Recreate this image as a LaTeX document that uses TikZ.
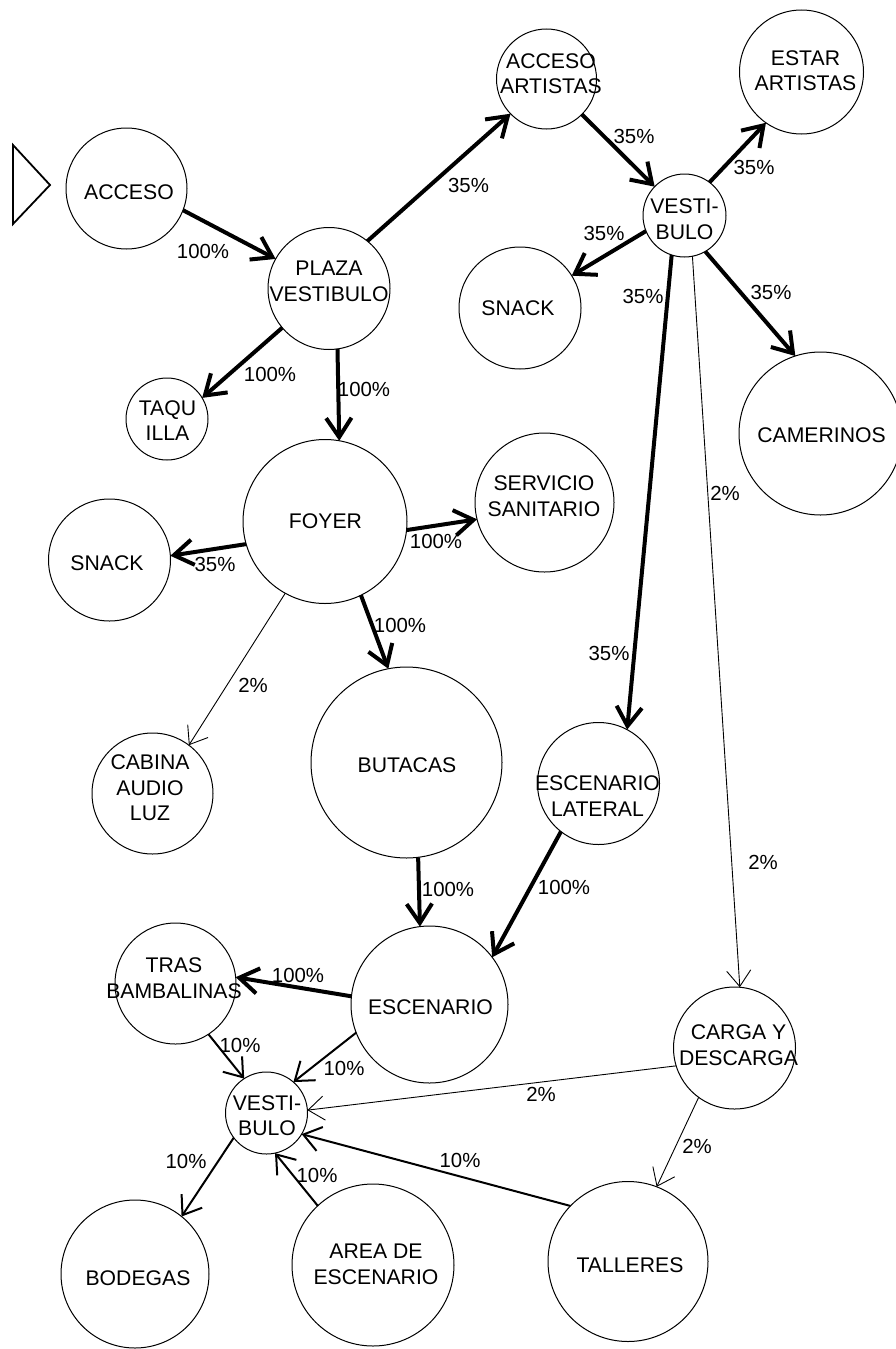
\documentclass[tikz,border=0pt]{standalone}
\usepackage{fontspec}
\setmainfont{Liberation Sans}
\usetikzlibrary{arrows.meta}
\newcommand\bubblefont{\fontsize{21.2}{25.5}\selectfont}
\newcommand\flowfont{\fontsize{20.4}{24}\selectfont}
\tikzset{
  circ/.style={circle, draw, line width=1pt, inner sep=0pt, outer sep=0pt, minimum size=#1},
  txt/.style={align=center, inner sep=0pt, font=\bubblefont},
  pct/.style={inner sep=0pt, font=\flowfont},
  arrowheavy/.style={line width=4pt, -{Straight Barb[angle=67:23pt]}},
  arrowmed/.style={line width=2pt, -{Straight Barb[angle=72:21pt]}},
  arrowlight/.style={line width=0.9pt, -{Straight Barb[angle=74:20pt]}},
}
\begin{document}
\begin{tikzpicture}[x=1pt,y=-1pt]
\fill[white] (0,0) rectangle (895,1349);
\useasboundingbox (0,0) rectangle (895,1349);

% entry marker
\draw[line width=1.8pt, line join=miter] (13,145) -- (50,185) -- (13,224) -- cycle;

% spaces
\node[circ=121pt] (acc)    at (126.5,188.5) {};
\node[txt] (acc-t)    at (129,192) {ACCESO};
\node[circ=122pt] (plaza)  at (329,288.5) {};
\node[txt] (plaza-t)  at (329,281.5) {PLAZA\\VESTIBULO};
\node[circ=82pt]  (taq)    at (167,419) {};
\node[txt] (taq-t)    at (167.5,420.5) {TAQU\\ILLA};
\node[circ=100pt] (aa)     at (546.5,79) {};
\node[txt] (aa-t)     at (551,73.5) {ACCESO\\ARTISTAS};
\node[circ=124pt] (estar)  at (801.5,72) {};
\node[txt] (estar-t)  at (805.5,70.5) {ESTAR\\ARTISTAS};
\node[circ=83pt]  (vesta)  at (684.5,215.5) {};
\node[txt] (vesta-t)  at (684.5,219) {VESTI-\\BULO};
\node[circ=122pt] (snacka) at (520,308) {};
\node[txt] (snacka-t) at (518,308) {SNACK};
\node[circ=163pt] (cam)    at (820.5,433.5) {};
\node[txt] (cam-t)    at (821.5,435) {CAMERINOS};
\node[circ=164pt] (foyer)  at (325,521.5) {};
\node[txt] (foyer-t)  at (325.5,521) {FOYER};
\node[circ=139pt] (serv)   at (544.5,502.5) {};
\node[txt] (serv-t)   at (544,496) {SERVICIO\\SANITARIO};
\node[circ=122pt] (snackb) at (109.5,560) {};
\node[txt] (snackb-t) at (107,563) {SNACK};
\node[circ=121pt] (cabina) at (152.5,793.5) {};
\node[txt] (cabina-t) at (150,788) {CABINA\\AUDIO\\LUZ};
\node[circ=191pt] (but)    at (406.5,762.5) {};
\node[txt] (but-t)    at (407,765) {BUTACAS};
\node[circ=122pt] (esclat) at (598.5,783.5) {};
\node[txt] (esclat-t) at (597.5,796) {ESCENARIO\\LATERAL};
\node[circ=121pt] (tras)   at (175.5,983.5) {};
\node[txt] (tras-t)   at (174,978) {TRAS\\BAMBALINAS};
\node[circ=157pt] (esc)    at (429.5,1004.5) {};
\node[txt] (esc-t)    at (430.5,1007) {ESCENARIO};
\node[circ=82pt]  (vestb)  at (266.5,1113) {};
\node[txt] (vestb-t)  at (267,1115.5) {VESTI-\\BULO};
\node[circ=122pt] (carga)  at (734.5,1048) {};
\node[txt] (carga-t)  at (738.5,1045) {CARGA Y\\DESCARGA};
\node[circ=148pt] (bod)    at (135,1274) {};
\node[txt] (bod-t)    at (138,1278) {BODEGAS};
\node[circ=162pt] (area)   at (373,1265) {};
\node[txt] (area-t)   at (376,1264.5) {AREA DE\\ESCENARIO};
\node[circ=160pt] (tall)   at (628,1261.5) {};
\node[txt] (tall-t)   at (630,1265) {TALLERES};

% flows
\draw[arrowheavy] (acc.-21.7) -- (plaza.151.7);
\draw[arrowheavy] (plaza.51.9) -- (aa.-136.3);
\draw[arrowheavy] (plaza.-140.1) -- (taq.31.7);
\draw[arrowheavy] (plaza.-82.3) -- (foyer.80.6);
\draw[arrowheavy] (aa.-45.4) -- (vesta.136);
\draw[arrowheavy] (vesta.53) -- (estar.-125.4);
\draw[arrowheavy] (vesta.-158.6) -- (snacka.32.6);
\draw[arrowheavy] (vesta.-108) -- (esclat.62);
\draw[arrowheavy] (vesta.-60.7) -- (cam.108.9);
\draw[arrowlight] (vesta.-79.8) -- (carga.85.8);
\draw[arrowheavy] (foyer.-164.6) -- (snackb.4.8);
\draw[arrowheavy] (foyer.-6) -- (serv.-166.5);
\draw[arrowheavy] (foyer.-64.2) -- (but.101.8);
\draw[arrowlight] (foyer.-119.1) -- (cabina.53.8);
\draw[arrowheavy] (but.-83.7) -- (esc.97.8);
\draw[arrowheavy] (esclat.-128.9) -- (esc.37.2);
\draw[arrowheavy] (esc.174.5) -- (tras.6.2);
\draw[arrowmed] (tras.-57.7) -- (vestb.123.5);
\draw[arrowmed] (esc.-159.1) -- (vestb.49.5);
\draw[arrowlight] (carga.-163.4) -- (vestb.4.1);
\draw[arrowlight] (carga.-126.9) -- (tall.69.7);
\draw[arrowmed] (tall.136.3) -- (vestb.-31.8);
\draw[arrowmed] (vestb.-143) -- (bod.51);
\draw[arrowmed] (area.133.5) -- (vestb.-78.3);

% percentages
\node[pct] (p1)  at (203,251)  {100\%};
\node[pct] (p2)  at (468.5,185) {35\%};
\node[pct] (p3)  at (270,374)  {100\%};
\node[pct] (p4)  at (364,389)  {100\%};
\node[pct] (p5)  at (634,136)  {35\%};
\node[pct] (p6)  at (754,167)  {35\%};
\node[pct] (p7)  at (604,233)  {35\%};
\node[pct] (p8)  at (643,296)  {35\%};
\node[pct] (p9)  at (771,292)  {35\%};
\node[pct] (p10) at (725,493)  {2\%};
\node[pct] (p11) at (609,653)  {35\%};
\node[pct] (p12) at (763,862)  {2\%};
\node[pct] (p13) at (215,564)  {35\%};
\node[pct] (p14) at (436,541)  {100\%};
\node[pct] (p15) at (400,625)  {100\%};
\node[pct] (p16) at (253,685)  {2\%};
\node[pct] (p17) at (448,889)  {100\%};
\node[pct] (p18) at (564,887)  {100\%};
\node[pct] (p19) at (298,975)  {100\%};
\node[pct] (p20) at (240,1045) {10\%};
\node[pct] (p21) at (344,1068) {10\%};
\node[pct] (p22) at (541,1094) {2\%};
\node[pct] (p23) at (697,1146) {2\%};
\node[pct] (p24) at (460,1160) {10\%};
\node[pct] (p25) at (186,1161) {10\%};
\node[pct] (p26) at (317,1175) {10\%};
\end{tikzpicture}
\end{document}
